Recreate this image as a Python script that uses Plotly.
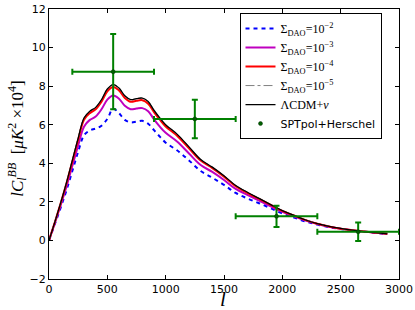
import plotly.graph_objects as go

# multipole grid
ell = [0, 50, 100, 150, 200, 250, 300, 350, 400, 450, 500, 550, 600, 650, 700, 750,
       800, 850, 900, 950, 1000, 1100, 1200, 1300, 1400, 1500, 1600, 1700, 1800, 1900,
       2000, 2100, 2200, 2300, 2400, 2500, 2600, 2700, 2800, 2900]

lcdm_nu = [0.0, 0.95, 1.95, 3.0, 4.15, 5.3, 6.35, 6.7, 6.9, 7.3, 7.85, 8.08, 7.9, 7.5,
           7.3, 7.35, 7.38, 7.2, 6.75, 6.35, 6.0, 5.5, 4.85, 4.2, 3.8, 3.35, 2.85, 2.5,
           2.18, 1.86, 1.55, 1.3, 1.06, 0.87, 0.73, 0.62, 0.53, 0.46, 0.40, 0.34]

sigma_1e5 = [0.0, 0.95, 1.95, 3.0, 4.15, 5.3, 6.35, 6.7, 6.9, 7.3, 7.85, 8.08, 7.9, 7.5,
             7.3, 7.35, 7.38, 7.2, 6.75, 6.35, 6.0, 5.5, 4.85, 4.2, 3.8, 3.35, 2.85, 2.5,
             2.18, 1.86, 1.55, 1.3, 1.06, 0.87, 0.73, 0.62, 0.53, 0.46, 0.40, 0.34]

sigma_1e4 = [0.0, 0.94, 1.92, 2.96, 4.09, 5.22, 6.26, 6.6, 6.8, 7.19, 7.73, 7.96, 7.78,
             7.39, 7.19, 7.24, 7.27, 7.09, 6.65, 6.26, 5.91, 5.42, 4.78, 4.14, 3.75,
             3.31, 2.81, 2.47, 2.15, 1.84, 1.53, 1.29, 1.05, 0.86, 0.72, 0.61, 0.53,
             0.46, 0.40, 0.34]

sigma_1e3 = [0.0, 0.9, 1.83, 2.8, 3.87, 4.93, 5.9, 6.25, 6.42, 6.8, 7.3, 7.52, 7.35,
             6.98, 6.8, 6.84, 6.86, 6.7, 6.28, 5.9, 5.58, 5.12, 4.51, 3.91, 3.55,
             3.13, 2.67, 2.36, 2.06, 1.77, 1.48, 1.25, 1.03, 0.85, 0.71, 0.61, 0.52,
             0.46, 0.40, 0.34]

sigma_1e2 = [0.0, 0.85, 1.7, 2.6, 3.6, 4.6, 5.45, 5.7, 5.8, 5.95, 6.3, 6.83, 6.6,
             6.25, 6.12, 6.16, 6.2, 6.05, 5.72, 5.38, 5.07, 4.66, 4.15, 3.6, 3.25,
             2.88, 2.46, 2.18, 1.93, 1.67, 1.4, 1.19, 0.98, 0.82, 0.69, 0.59, 0.51,
             0.45, 0.39, 0.33]

# SPTpol+Herschel band powers
data_l = [550, 1250, 1950, 2650]
data_v = [8.75, 6.3, 1.25, 0.45]
data_xerr = [350, 350, 350, 350]
data_yerr = [1.95, 1.0, 0.55, 0.48]

x_ticks = [0, 500, 1000, 1500, 2000, 2500, 3000]
y_ticks = [-2, 0, 2, 4, 6, 8, 10, 12]

serif = "Liberation Serif"

fig = go.Figure()
fig.add_trace(go.Scatter(x=ell, y=sigma_1e2, mode="lines", line_shape="spline",
                         line=dict(color="#0000FF", width=2, dash="4px,4px"),
                         name="Σ<sub>DAO</sub>=10<sup>−2</sup>"))
fig.add_trace(go.Scatter(x=ell, y=sigma_1e3, mode="lines", line_shape="spline",
                         line=dict(color="#BF00BF", width=2),
                         name="Σ<sub>DAO</sub>=10<sup>−3</sup>"))
fig.add_trace(go.Scatter(x=ell, y=sigma_1e4, mode="lines", line_shape="spline",
                         line=dict(color="#FF0000", width=2),
                         name="Σ<sub>DAO</sub>=10<sup>−4</sup>"))
fig.add_trace(go.Scatter(x=ell, y=sigma_1e5, mode="lines", line_shape="spline",
                         line=dict(color="#808080", width=1, dash="dashdot"),
                         name="Σ<sub>DAO</sub>=10<sup>−5</sup>"))
fig.add_trace(go.Scatter(x=ell, y=lcdm_nu, mode="lines", line_shape="spline",
                         line=dict(color="#000000", width=1.3),
                         name="ΛCDM+<i>ν</i>"))
fig.add_trace(go.Scatter(x=data_l, y=data_v, mode="markers",
                         marker=dict(color="#006000", size=4, line=dict(color="#003000", width=0.5)),
                         error_x=dict(type="data", array=data_xerr, color="#008000", thickness=2, width=3),
                         error_y=dict(type="data", array=data_yerr, color="#008000", thickness=2, width=3),
                         name="<span style='font-family:DejaVu Sans;font-size:11px'>SPTpol+Herschel</span>"))

axis_common = dict(showline=True, linecolor="black", linewidth=1, mirror="ticks",
                   ticks="inside", ticklen=4, tickcolor="black", showgrid=False,
                   zeroline=False, automargin=False,
                   tickfont=dict(family="DejaVu Sans", size=11, color="black"))

fig.update_xaxes(range=[0, 3000], tickvals=x_ticks, **axis_common)
fig.update_yaxes(range=[-2, 12], tickvals=y_ticks, **axis_common)

# axis titles as annotations for precise placement (plot area: x 49..399, y 9..279)
fig.add_annotation(text="<i>l</i>", xref="paper", yref="paper", x=0.497, y=-0.074,
                   xanchor="center", yanchor="middle", showarrow=False,
                   font=dict(family=serif, size=21, color="black"))
fig.add_annotation(text="<i>lC</i><sub><i>l</i></sub><sup><i>BB</i></sup>  [<i>μK</i><sup>2</sup> ×10<sup>4</sup>]",
                   xref="paper", yref="paper", x=-0.091, y=0.52, textangle=-90,
                   xanchor="center", yanchor="middle", showarrow=False,
                   font=dict(family=serif, size=17, color="black"))

fig.update_layout(
    width=415, height=310,
    margin=dict(l=49, r=16, t=9, b=31),
    plot_bgcolor="white", paper_bgcolor="white",
    showlegend=True,
    legend=dict(x=0.95, y=0.985, xanchor="right", yanchor="top",
                bgcolor="white", bordercolor="black", borderwidth=1,
                font=dict(family=serif, size=12, color="black"),
                itemwidth=30, tracegroupgap=0),
)

fig.write_html("out.html", config={"displayModeBar": False},
               post_script="document.body.style.margin='0px';document.body.style.overflow='hidden';")
